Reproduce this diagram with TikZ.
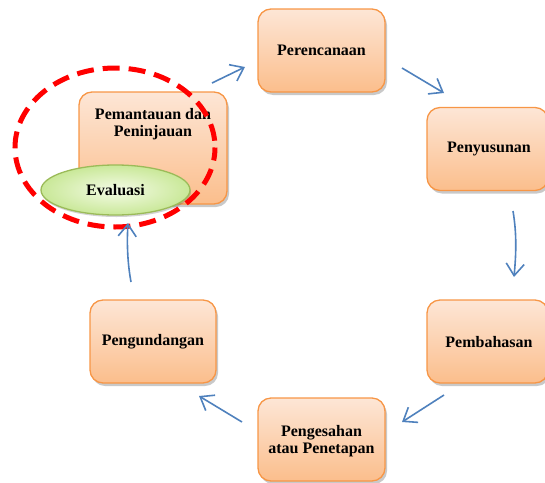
\documentclass[tikz,border=0pt]{standalone}
\usepackage{fontspec}
\setmainfont{Liberation Serif}
\usetikzlibrary{arrows.meta,shadows,shapes.geometric}
\definecolor{boxborder}{HTML}{F79646}
\definecolor{boxtop}{HTML}{FDE6D6}
\definecolor{boxbot}{HTML}{FBBE8C}
\definecolor{arrowblue}{HTML}{4F81BD}
\definecolor{evalborder}{HTML}{9BBB59}
\definecolor{evalin}{HTML}{F4FBE6}
\definecolor{evalout}{HTML}{C9E898}
\tikzset{
  stagebox/.style={draw=boxborder, line width=1.3pt, rounded corners=13pt,
    top color=boxtop, bottom color=boxbot,
    drop shadow={shadow xshift=2pt, shadow yshift=-3pt, opacity=0.3, fill=black!70},
    minimum width=127pt, minimum height=83pt, inner sep=0pt},
  stagetext/.style={font=\fontsize{16}{16.5}\selectfont\bfseries, align=center, text=black},
  flow/.style={draw=arrowblue, line width=1.6pt, -{Straight Barb[length=12pt,width=18pt]}},
}
\begin{document}
\begin{tikzpicture}[x=1pt,y=-1pt]
\useasboundingbox (0,0) rectangle (545,482);
% boxes
\node[stagebox] (ren) at (321.5,50.5) {};
\node[stagebox, minimum width=121pt] (nyu) at (487.5,149) {};
\node[stagebox, minimum width=121pt] (bah) at (487.5,341.5) {};
\node[stagebox] (sah) at (321.5,439.5) {};
\node[stagebox, minimum width=126pt] (und) at (153,341.5) {};
\node[stagebox, minimum width=148pt, minimum height=112pt] (pan) at (153,148) {};
% texts
\node[stagetext] at (ren.center) {Perencanaan};
\node[stagetext] at (489,149) {Penyusunan};
\node[stagetext] at (489,342) {Pembahasan};
\node[stagetext] at (321.5,441) {Pengesahan\\atau Penetapan};
\node[stagetext] at (153,342) {Pengundangan};
\node[stagetext] at (153,124) {Pemantauan dan\\Peninjauan};
% evaluasi ellipse
\node[ellipse, draw=evalborder, line width=1.3pt, inner color=evalin, outer color=evalout,
  minimum width=149pt, minimum height=50pt, inner sep=0pt,
  drop shadow={shadow xshift=1pt, shadow yshift=-2pt, opacity=0.25, fill=black!70},
  stagetext] (eva) at (115.5,190) {Evaluasi};
% red dashed ellipse
\draw[red, line width=5pt, dash pattern=on 17pt off 9pt, dash phase=4pt] (115,147.5) ellipse [x radius=100, y radius=79.5];
% arrows
\coordinate (a1s) at (212,83); \coordinate (a1e) at (245,67);
\coordinate (a2s) at (402,68); \coordinate (a2e) at (444,93);
\coordinate (a3s) at (513,211); \coordinate (a3e) at (514,277);
\coordinate (a4s) at (444,395); \coordinate (a4e) at (402,422);
\coordinate (a5s) at (242,422); \coordinate (a5e) at (199,396);
\coordinate (a6s) at (131,282); \coordinate (a6e) at (128,223);
\draw[flow] (a1s) -- (a1e);
\draw[flow] (a2s) -- (a2e);
\draw[flow] (a3s) .. controls (517,235) and (516,255) .. (a3e);
\draw[flow] (a4s) -- (a4e);
\draw[flow] (a5s) -- (a5e);
\draw[flow] (a6s) .. controls (127,260) and (127,240) .. (a6e);
\end{tikzpicture}
\end{document}
